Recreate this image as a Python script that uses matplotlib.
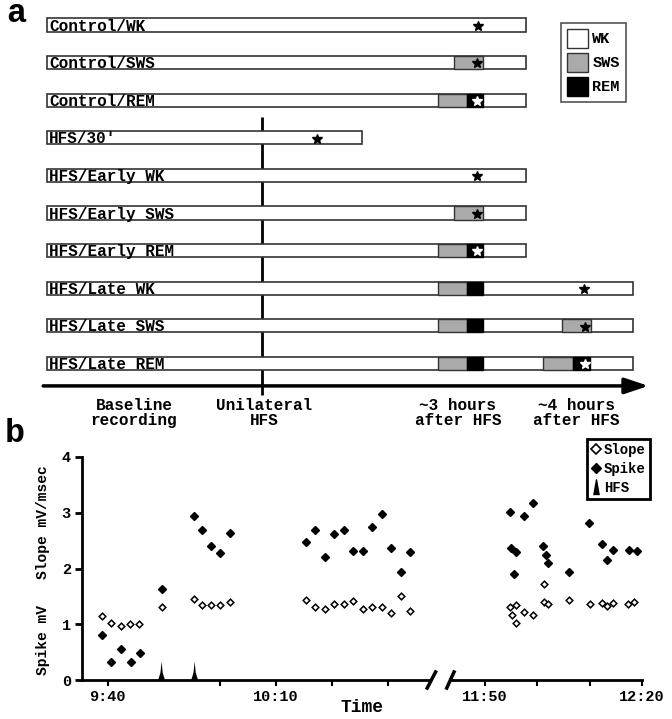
import numpy as np
import matplotlib
matplotlib.use('Agg')
import matplotlib.pyplot as plt
from matplotlib.lines import Line2D
from matplotlib.patches import Patch

plt.rcParams['font.family'] = ['Liberation Mono', 'DejaVu Sans']
plt.rcParams['font.weight'] = 'bold'

# ---- panel a: recording protocol (timeline in arbitrary units, 0 = start, 100 = end of control session)
conditions = ['Control/WK', 'Control/SWS', 'Control/REM', "HFS/30'", 'HFS/Early WK',
              'HFS/Early SWS', 'HFS/Early REM', 'HFS/Late WK', 'HFS/Late SWS', 'HFS/Late REM']
bar_end = [100, 100, 100, 65.8, 100, 100, 100, 122.3, 122.3, 122.3]
sws_spans = [[], [(84.9, 91.1)], [(81.6, 87.8)], [], [], [(84.9, 91.1)], [(81.6, 87.8)],
             [(81.6, 87.8)], [(81.6, 87.8), (107.5, 113.6)], [(81.6, 87.8), (103.5, 109.8)]]
rem_spans = [[], [], [(87.8, 91.1)], [], [], [], [(87.8, 91.1)],
             [(87.8, 91.1)], [(87.8, 91.1)], [(87.8, 91.1), (109.8, 113.4)]]
star_pos = [90.0, 89.8, 89.8, 56.4, 89.8, 89.8, 89.8, 112.1, 112.3, 112.3]
star_white = [False, False, True, False, False, False, True, False, False, True]
hfs_time = 44.9
phase_labels = ['Baseline\nrecording', 'Unilateral\nHFS', '~3 hours\nafter HFS', '~4 hours\nafter HFS']
phase_pos = [18.2, 45.3, 85.8, 110.6]

# ---- panel b: field potentials (time in minutes after 9:00)
slope_t = [38.9, 40.5, 42.3, 43.9, 45.6, 49.6, 55.4, 56.8, 58.4, 60.1, 61.8,
           75.3, 77.0, 78.7, 80.4, 82.1, 83.8, 85.5, 87.1, 88.9, 90.6, 92.3, 93.9,
           174.7, 176.0, 175.2, 175.9, 177.5, 179.2, 181.2, 181.3, 182.0, 186.1,
           190.0, 192.4, 193.4, 194.5, 197.4, 198.5]
slope_v = [1.15, 1.03, 0.97, 1.00, 1.00, 1.31, 1.46, 1.34, 1.34, 1.35, 1.40,
           1.43, 1.31, 1.28, 1.37, 1.37, 1.41, 1.27, 1.31, 1.31, 1.21, 1.50, 1.24,
           1.31, 1.34, 1.17, 1.03, 1.22, 1.17, 1.72, 1.40, 1.36, 1.44,
           1.37, 1.39, 1.32, 1.39, 1.37, 1.40]
spike_t = [38.9, 40.5, 42.3, 44.1, 45.7, 49.6, 55.4, 56.8, 58.4, 60.1, 61.8,
           75.3, 77.0, 78.7, 80.4, 82.1, 83.8, 85.5, 87.1, 88.9, 90.6, 92.3, 93.9,
           174.7, 175.0, 176.0, 175.5, 177.4, 179.1, 181.1, 181.6, 182.0, 186.1,
           189.8, 192.4, 193.4, 194.5, 197.5, 199.0]
spike_v = [0.80, 0.33, 0.56, 0.33, 0.48, 1.64, 2.94, 2.69, 2.40, 2.28, 2.63,
           2.48, 2.69, 2.20, 2.61, 2.69, 2.32, 2.32, 2.74, 2.97, 2.37, 1.93, 2.29,
           3.01, 2.37, 2.30, 1.90, 2.94, 3.17, 2.40, 2.24, 2.10, 1.93,
           2.81, 2.44, 2.16, 2.33, 2.34, 2.32]
hfs_t = [49.6, 55.5]
hfs_h = 0.33
left_ticks = [40, 60, 70, 80, 90]
left_labels = ['9:40', '', '10:10', '', '']
right_ticks = [170, 180, 190, 200]
right_labels = ['11:50', '', '', '12:20']

W, H = 672, 719
fig = plt.figure(figsize=(W / 100, H / 100), dpi=100)

# ---------------- panel a
ax = fig.add_axes([0, 0, 1, 1])
ax.set_xlim(-9.81, 130.5)
ax.set_ylim(18.46, -0.665)
ax.axis('off')
bh = 0.35
edge = '#333333'
for i, name in enumerate(conditions):
    ax.barh(i, bar_end[i], height=bh, left=0, color='white', edgecolor=edge, lw=1.2, zorder=2)
    for a, b in sws_spans[i]:
        ax.barh(i, b - a, height=bh, left=a, color='#aaaaaa', edgecolor=edge, lw=1.0, zorder=3)
    for a, b in rem_spans[i]:
        ax.barh(i, b - a, height=bh, left=a, color='black', edgecolor='black', lw=1.0, zorder=3)
    ax.text(0.4, i + 0.03, name, ha='left', va='center', fontsize=11.5, zorder=4)
    ax.plot(star_pos[i], i + 0.02, marker='*', ms=7.5,
            color='white' if star_white[i] else 'black', zorder=5)

ax.vlines(hfs_time, 2.45, 9.84, color='black', lw=2, zorder=1)
ax.annotate('', xy=(125.6, 9.6), xytext=(-0.8, 9.6),
            arrowprops=dict(arrowstyle='-|>,head_length=1.2,head_width=0.4',
                            lw=2.5, color='black', mutation_scale=12, shrinkA=0, shrinkB=0))
for lab, p in zip(phase_labels, phase_pos):
    ax.text(p, 10.32, lab, ha='center', va='center', fontsize=11.5, linespacing=1.05)

leg_a = fig.legend([Patch(facecolor='white', edgecolor=edge),
                    Patch(facecolor='#aaaaaa', edgecolor=edge),
                    Patch(facecolor='black', edgecolor='black')],
                   ['WK', 'SWS', 'REM'], loc='upper left',
                   bbox_to_anchor=(561 / W, 1 - 23 / H), borderaxespad=0, fancybox=False,
                   edgecolor='#555555', framealpha=1, fontsize=11,
                   handlelength=1.35, handleheight=1.5, labelspacing=0.35,
                   handletextpad=0.3, borderpad=0.4)
leg_a.get_frame().set_linewidth(1.2)

fig.text(16 / W, 1 - 14 / H, 'a', ha='center', va='center', fontsize=24)
fig.text(15 / W, 1 - 434 / H, 'b', ha='center', va='center', fontsize=24)

# ---------------- panel b (broken time axis)
axl = fig.add_axes([82 / W, 39 / H, 348 / W, 223 / H])
axr = fig.add_axes([450 / W, 39 / H, 192 / W, 223 / H])
axl.set_xlim(35.4, 97.5)
axr.set_xlim(163.3, 200)

spike_marker = [(-0.35, -1), (0, 1), (0.35, -1)]
for a in (axl, axr):
    a.set_ylim(0, 4)
    a.plot(slope_t, slope_v, ls='none', marker='D', ms=3.4, mfc='white', mec='black', mew=1.1)
    a.plot(spike_t, spike_v, ls='none', marker='D', ms=3.8, mfc='black', mec='black')
    for t in hfs_t:
        a.fill([t - 0.6, t - 0.2, t, t + 0.2, t + 0.6],
               [0, hfs_h * 0.4, hfs_h, hfs_h * 0.4, 0], color='black', lw=0)
    for s in ('top', 'right'):
        a.spines[s].set_visible(False)
    a.spines['bottom'].set_linewidth(2)
    a.spines['left'].set_linewidth(2)
    a.tick_params(axis='x', length=4, width=1.5, pad=3, labelsize=11)
    a.tick_params(axis='y', length=5, width=2, pad=3, labelsize=11)
    a.patch.set_visible(False)

axl.set_yticks([0, 1, 2, 3, 4])
axl.set_xticks(left_ticks, left_labels)
axr.set_xticks(right_ticks, right_labels)
axr.spines['left'].set_visible(False)
axr.set_yticks([])

# break marks
kw = dict(color='black', lw=2.5, clip_on=False)
axl.plot([1 - 0.008, 1 + 0.016], [-0.036, 0.036], transform=axl.transAxes, **kw)
axr.plot([-0.017, 0.021], [-0.036, 0.036], transform=axr.transAxes, **kw)

fig.text(362 / W, 1 - 708 / H, 'Time', ha='center', va='center', fontsize=13)
fig.text(43 / W, 1 - 522 / H, 'Slope mV/msec', rotation=90, ha='center', va='center', fontsize=10.5)
fig.text(43 / W, 1 - 640 / H, 'Spike mV', rotation=90, ha='center', va='center', fontsize=10.5)

leg_b = fig.legend([Line2D([], [], ls='none', marker='D', ms=5, mfc='white', mec='black', mew=1.2),
                    Line2D([], [], ls='none', marker='D', ms=5, mfc='black', mec='black'),
                    Line2D([], [], ls='none', marker=spike_marker, ms=11, mfc='black', mec='black')],
                   ['Slope', 'Spike', 'HFS'], loc='upper left',
                   bbox_to_anchor=(587 / W, 1 - 439 / H), borderaxespad=0, fancybox=False,
                   edgecolor='black', framealpha=1, fontsize=10,
                   handlelength=0.7, handletextpad=0.2, labelspacing=0.35, borderpad=0.3)
leg_b.get_frame().set_linewidth(2)

fig.savefig('out.png', dpi=100)
